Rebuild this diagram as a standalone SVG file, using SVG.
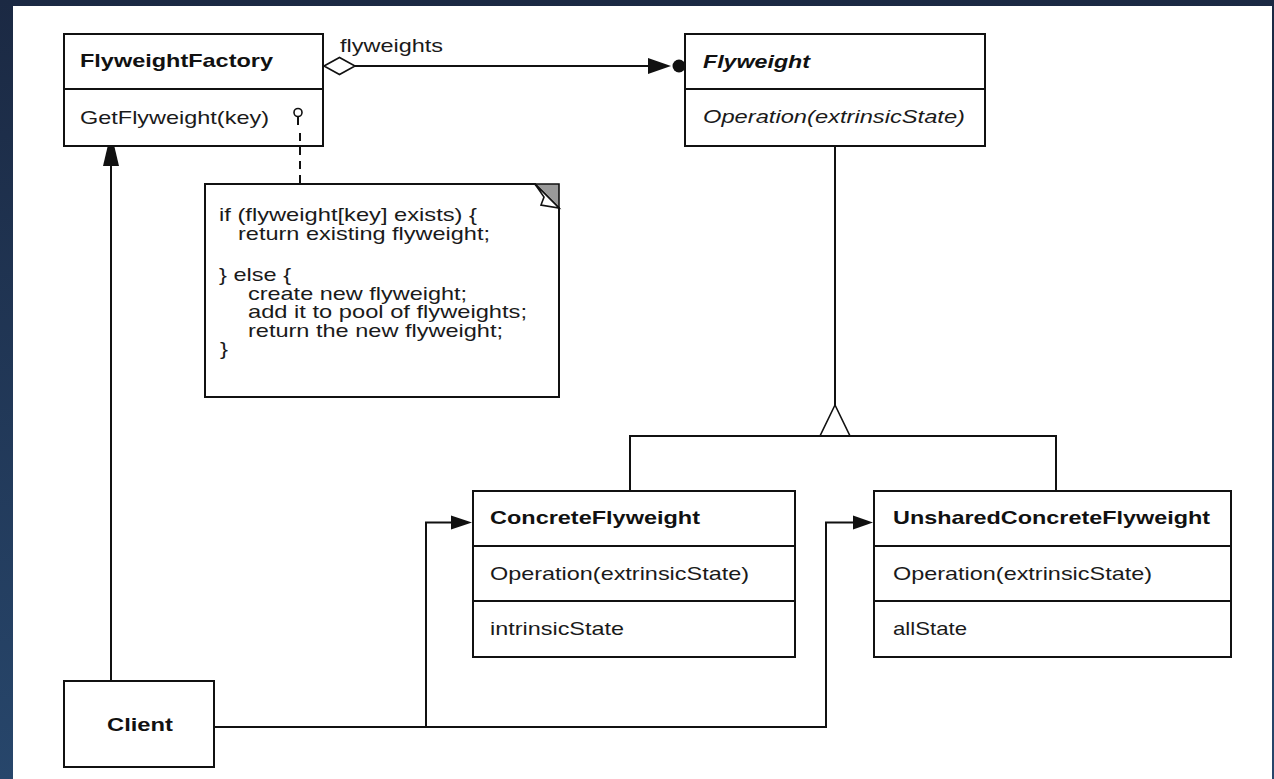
<svg xmlns="http://www.w3.org/2000/svg" width="1274" height="779" viewBox="0 0 1274 779">
<defs>
<linearGradient id="bg" x1="0" y1="0" x2="0" y2="1">
<stop offset="0" stop-color="#1b2943"/>
<stop offset="1" stop-color="#27466b"/>
</linearGradient>
<style>
.box{fill:#fff;stroke:#111;stroke-width:2}
.ln{fill:none;stroke:#111;stroke-width:2}
.t{font-family:"Liberation Sans",Arial,sans-serif;font-size:19px;fill:#1a1a1a}
.b{font-weight:bold;fill:#111}
.i{font-style:italic}
.head{fill:#111;stroke:none}
</style>
</defs>
<rect width="1274" height="779" fill="url(#bg)"/>
<rect x="13" y="6" width="1259" height="773" fill="#fff"/>

<g id="FlyweightFactory">
<rect class="box" x="64" y="34" width="259" height="112"/>
<line class="ln" x1="64" y1="89" x2="323" y2="89"/>
<text class="t b" x="80" y="67" textLength="193" lengthAdjust="spacingAndGlyphs">FlyweightFactory</text>
<text class="t" x="80" y="124" textLength="189" lengthAdjust="spacingAndGlyphs">GetFlyweight(key)</text>
</g>

<g id="label-flyweights">
<text class="t" x="340" y="52" textLength="103" lengthAdjust="spacingAndGlyphs">flyweights</text>
</g>

<g id="Flyweight">
<rect class="box" x="685" y="34" width="300" height="112"/>
<line class="ln" x1="685" y1="89" x2="985" y2="89"/>
<text class="t b i" x="703" y="68" textLength="107" lengthAdjust="spacingAndGlyphs">Flyweight</text>
<text class="t i" x="703" y="123" textLength="262" lengthAdjust="spacingAndGlyphs">Operation(extrinsicState)</text>
</g>

<g id="Note">
<path class="box" d="M205,184 H535 L559,208 V397 H205 Z"/>
<polygon points="535,184 559,184 559,208" fill="#999" stroke="#111" stroke-width="1.6"/>
<polygon points="535,184 544,197 541,205 559,208" fill="#fff" stroke="#111" stroke-width="1.6"/>
<text class="t" x="219" y="221" textLength="258" lengthAdjust="spacingAndGlyphs">if (flyweight[key] exists) {</text>
<text class="t" x="238" y="240" textLength="252" lengthAdjust="spacingAndGlyphs">return existing flyweight;</text>
<text class="t" x="219" y="281" textLength="72" lengthAdjust="spacingAndGlyphs">} else {</text>
<text class="t" x="248" y="299.5" textLength="219" lengthAdjust="spacingAndGlyphs">create new flyweight;</text>
<text class="t" x="248" y="318" textLength="279" lengthAdjust="spacingAndGlyphs">add it to pool of flyweights;</text>
<text class="t" x="248" y="336.5" textLength="255" lengthAdjust="spacingAndGlyphs">return the new flyweight;</text>
<text class="t" x="220" y="355" textLength="8" lengthAdjust="spacingAndGlyphs">}</text>
</g>

<g id="ConcreteFlyweight">
<rect class="box" x="473" y="491" width="322" height="166"/>
<line class="ln" x1="473" y1="546" x2="795" y2="546"/>
<line class="ln" x1="473" y1="601" x2="795" y2="601"/>
<text class="t b" x="490" y="524" textLength="210" lengthAdjust="spacingAndGlyphs">ConcreteFlyweight</text>
<text class="t" x="490" y="580" textLength="259" lengthAdjust="spacingAndGlyphs">Operation(extrinsicState)</text>
<text class="t" x="490" y="635" textLength="134" lengthAdjust="spacingAndGlyphs">intrinsicState</text>
</g>

<g id="UnsharedConcreteFlyweight">
<rect class="box" x="874" y="491" width="357" height="166"/>
<line class="ln" x1="874" y1="546" x2="1231" y2="546"/>
<line class="ln" x1="874" y1="601" x2="1231" y2="601"/>
<text class="t b" x="893" y="524" textLength="317" lengthAdjust="spacingAndGlyphs">UnsharedConcreteFlyweight</text>
<text class="t" x="893" y="580" textLength="259" lengthAdjust="spacingAndGlyphs">Operation(extrinsicState)</text>
<text class="t" x="893" y="635" textLength="74" lengthAdjust="spacingAndGlyphs">allState</text>
</g>

<g id="Client">
<rect class="box" x="64" y="681" width="150" height="86"/>
<text class="t b" x="107" y="731" textLength="66" lengthAdjust="spacingAndGlyphs">Client</text>
</g>

<g id="connectors">
<!-- aggregation FlyweightFactory -> Flyweight -->
<line class="ln" x1="355" y1="66" x2="650" y2="66"/>
<polygon points="324,66 339.5,57.5 355,66 339.5,74.5" fill="#fff" stroke="#111" stroke-width="1.6"/>
<polygon class="head" points="648,58 648,74 671,66"/>
<circle class="head" cx="679" cy="66" r="6.5"/>
<!-- lollipop + dashed note link -->
<circle cx="298" cy="112.5" r="4" fill="#fff" stroke="#111" stroke-width="1.6"/>
<line class="ln" x1="298" y1="116.5" x2="298" y2="125"/>
<line x1="300" y1="133" x2="300" y2="184" stroke="#111" stroke-width="2" stroke-dasharray="8,6"/>
<!-- inheritance -->
<line class="ln" x1="835" y1="146" x2="835" y2="405"/>
<polygon points="835,405 820,436 850,436" fill="#fff" stroke="#111" stroke-width="1.6"/>
<polyline class="ln" points="630,490 630,436 1056,436 1056,490"/>
<!-- Client -> FlyweightFactory -->
<line class="ln" x1="111" y1="680" x2="111" y2="160"/>
<polygon class="head" points="107.5,147 114.5,147 119,166 103,166"/>
<!-- Client -> ConcreteFlyweight / UnsharedConcreteFlyweight -->
<polyline class="ln" points="215,727 826,727 826,522.5 860,522.5"/>
<polyline class="ln" points="426,727 426,522.5 455,522.5"/>
<polygon class="head" points="451,515.5 451,529.5 472,522.5"/>
<polygon class="head" points="853,515.5 853,529.5 873,522.5"/>
</g>
</svg>
